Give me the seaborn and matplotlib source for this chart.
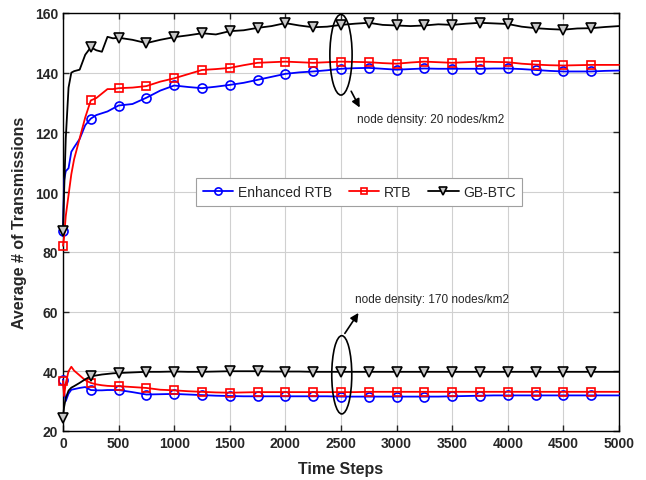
import numpy as np
import pandas as pd
import matplotlib
matplotlib.use("Agg")
import matplotlib.pyplot as plt
from matplotlib.patches import Ellipse
from matplotlib.lines import Line2D
import seaborn as sns

# ---------------- data ----------------
steps = [0, 10, 25, 50, 75, 100, 150, 200, 250, 300, 350, 400, 450, 500,
         625, 750, 875, 1000, 1125, 1250, 1375, 1500, 1625, 1750, 1875, 2000,
         2125, 2250, 2375, 2500, 2625, 2750, 2875, 3000, 3125, 3250, 3375, 3500,
         3625, 3750, 3875, 4000, 4125, 4250, 4375, 4500, 4625, 4750, 4875, 5000]

# node density 20 nodes/km2
enh_rtb_20 = [87, 104, 107, 108, 113.5, 115, 117.8, 122.4, 124.6, 125.8, 126.4, 127, 128, 129,
              129.5, 131.6, 134, 135.7, 135.2, 134.8, 135.3, 135.9, 136.6, 137.6, 138.6, 139.6,
              140.1, 140.4, 140.8, 141.3, 141.5, 141.6, 141.3, 141, 141.2, 141.4, 141.3, 141.3,
              141.3, 141.3, 141.4, 141.4, 141.2, 140.9, 140.6, 140.4, 140.4, 140.4, 140.6, 140.7]
rtb_20 = [82, 85, 92, 99, 106, 111, 118, 125, 130.7, 131.5, 133, 134.5, 134.5, 134.8,
          135, 135.5, 137, 138.1, 139.5, 140.9, 141.2, 141.6, 142.5, 143.3, 143.5, 143.7,
          143.5, 143.3, 143.5, 143.7, 143.6, 143.5, 143.2, 143, 143.4, 143.7, 143.5, 143.3,
          143.5, 143.7, 143.6, 143.5, 143, 142.7, 142.5, 142.4, 142.5, 142.6, 142.6, 142.6]
gbbtc_20 = [87, 100, 118, 135, 140, 140.5, 141, 146, 148.5, 147.5, 147, 152, 151.5, 151.7,
            151, 149.9, 151, 151.9, 152.5, 153.2, 152.8, 153.9, 154.2, 155, 155.6, 156.6,
            155.8, 155.2, 155.4, 156, 156.4, 156.7, 156, 155.8, 155.6, 155.8, 156.2, 156,
            156.4, 156.7, 156.5, 156.3, 155.4, 154.9, 154.6, 154.4, 154.8, 154.9, 155.3, 155.6]

# node density 170 nodes/km2
enh_rtb_170 = [37.2, 33, 30, 32.5, 33.8, 34, 34.4, 34.7, 33.7, 33.6, 33.6, 33.7, 33.7, 33.7,
               33, 32.2, 32.3, 32.4, 32.2, 32, 31.8, 31.7, 31.6, 31.6, 31.6, 31.6,
               31.6, 31.6, 31.6, 31.5, 31.5, 31.5, 31.5, 31.5, 31.5, 31.5, 31.5, 31.6,
               31.7, 31.8, 31.9, 31.9, 31.9, 31.9, 31.9, 31.9, 31.9, 31.9, 31.9, 31.9]
rtb_170 = [36.7, 31.7, 36, 40, 41.5, 40.2, 38.6, 37, 36.1, 35.6, 35.3, 35.1, 35, 35,
           34.7, 34.4, 33.8, 33.6, 33.3, 33.1, 32.9, 32.8, 32.9, 33, 33, 33,
           33, 33, 33, 33, 33, 33.1, 33.1, 33.1, 33.1, 33.1, 33.1, 33.1,
           33.1, 33.1, 33.1, 33.1, 33.1, 33.1, 33.1, 33.1, 33.1, 33.1, 33.1, 33.1]
gbbtc_170 = [24.4, 28, 31, 33.5, 34.5, 35, 36.1, 37.3, 38.3, 38.6, 38.9, 39.1, 39.3, 39.4,
             39.6, 39.8, 39.8, 39.9, 39.8, 39.8, 39.9, 40, 40, 40, 39.9, 39.9,
             39.9, 39.8, 39.8, 39.8, 39.8, 39.8, 39.8, 39.8, 39.8, 39.8, 39.8, 39.8,
             39.8, 39.8, 39.8, 39.8, 39.8, 39.8, 39.8, 39.8, 39.8, 39.8, 39.8, 39.8]

series_names = ["Enhanced RTB", "RTB", "GB-BTC"]
x_ticks = [0, 500, 1000, 1500, 2000, 2500, 3000, 3500, 4000, 4500, 5000]
y_ticks = [20, 40, 60, 80, 100, 120, 140, 160]

# ---------------- style ----------------
sns.set_theme(style="ticks")
plt.rcParams["font.family"] = ["Liberation Sans", "DejaVu Sans"]

fig = plt.figure(figsize=(6.46, 4.81), dpi=100)
ax = fig.add_axes([0.0975, 0.102, 0.8607, 0.869])

mark_idx = [i for i, s in enumerate(steps) if s % 250 == 0 and s < 5000]

styles = {
    "Enhanced RTB": dict(color="#0000ff", marker="o", mfc="none", mec="#0000ff", ms=6.5),
    "RTB": dict(color="#ff0000", marker="s", mfc="none", mec="#ff0000", ms=6),
    "GB-BTC": dict(color="#000000", marker="v", mfc="#c8c8c8", mec="#000000", ms=7.5),
}

data20 = {"Enhanced RTB": enh_rtb_20, "RTB": rtb_20, "GB-BTC": gbbtc_20}
data170 = {"Enhanced RTB": enh_rtb_170, "RTB": rtb_170, "GB-BTC": gbbtc_170}

for dset in (data20, data170):
    for name in series_names:
        df = pd.DataFrame({"step": steps, "val": dset[name]})
        st = styles[name]
        sns.lineplot(data=df, x="step", y="val", ax=ax, color=st["color"], lw=1.3,
                     marker=st["marker"], markevery=mark_idx, mfc=st["mfc"],
                     mec=st["mec"], ms=st["ms"], mew=1.2, legend=False,
                     estimator=None, sort=False, clip_on=False, zorder=3)

ax.set_xlim(0, 5000)
ax.set_ylim(20, 160)
ax.set_xticks(x_ticks)
ax.set_yticks(y_ticks)
ax.grid(True, color="#d0d0d0", lw=0.8)
ax.set_axisbelow(True)
ax.tick_params(direction="in", top=True, right=True, length=4, width=1, labelsize=10)
for lab in ax.get_xticklabels() + ax.get_yticklabels():
    lab.set_fontweight("bold")
for sp in ax.spines.values():
    sp.set_color("black")
    sp.set_linewidth(1.0)
ax.set_xlabel("Time Steps", fontsize=11.5, fontweight="bold", labelpad=8)
ax.set_ylabel("Average # of Transmissions", fontsize=11.5, fontweight="bold", labelpad=6)

# annotations
ax.add_patch(Ellipse((2500, 146), 200, 27, fill=False, ec="black", lw=1.2, zorder=5))
ax.annotate("", xy=(2680, 127.5), xytext=(2580, 134.6),
            arrowprops=dict(arrowstyle="-|>", color="black", lw=1.2, mutation_scale=12))
ax.text(2645, 124.5, "node density: 20 nodes/km2", fontsize=8.5, va="center", ha="left")

ax.add_patch(Ellipse((2507, 38.8), 180, 26.2, fill=False, ec="black", lw=1.2, zorder=5))
ax.annotate("", xy=(2671, 60.3), xytext=(2521, 51.9),
            arrowprops=dict(arrowstyle="-|>", color="black", lw=1.2, mutation_scale=12))
ax.text(2626, 64.2, "node density: 170 nodes/km2", fontsize=8.5, va="center", ha="left")

# legend
handles = [Line2D([0], [0], color=styles[n]["color"], lw=1.3, marker=styles[n]["marker"],
                  mfc=styles[n]["mfc"], mec=styles[n]["mec"], ms=styles[n]["ms"] * 0.8, mew=1.2)
           for n in series_names]
leg = ax.legend(handles, series_names, loc="center", ncol=3, mode="expand",
                bbox_to_anchor=(0.2266, 0.532, 0.612, 0.08), fontsize=10,
                frameon=True, fancybox=False, framealpha=1, edgecolor="#a0a0a0",
                handlelength=2.2, handletextpad=0.3, borderpad=0.5)
leg.get_frame().set_linewidth(0.8)

fig.savefig("out.png", dpi=100)
